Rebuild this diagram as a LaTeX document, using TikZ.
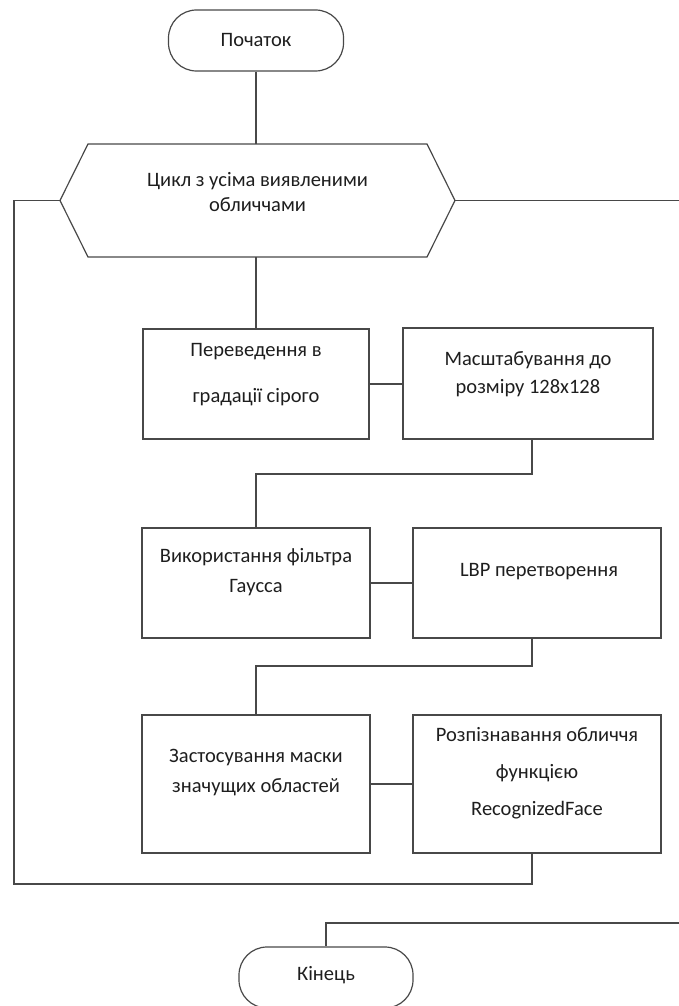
\documentclass[tikz,border=0pt]{standalone}
\usepackage{fontspec}
\setmainfont{Carlito}
\usetikzlibrary{calc}

\definecolor{inkgray}{RGB}{72,72,72}
\definecolor{textdark}{RGB}{30,30,30}

\tikzset{
	ink/.style={draw=inkgray, line width=1.2pt},
	term/.style={ink, rectangle, rounded corners=28pt, minimum width=175pt, minimum height=61pt, inner sep=0pt},
	proc/.style={ink, rectangle, inner sep=0pt},
	txt/.style={align=center, font=\fontsize{20.5}{25}\selectfont, text=textdark, inner sep=0pt},
}

\begin{document}
\begin{tikzpicture}[x=1pt,y=-1pt]

		\useasboundingbox (0,0) rectangle (679,1006);

		\node [term, label={[txt]center:Початок}] (start) at (256,40.5) {};

		\coordinate (L) at (60,200.5) ;
		\coordinate (TL) at (88,144) ;
		\coordinate (TR) at (427,144) ;
		\coordinate (R) at (455,200.5) ;
		\coordinate (BR) at (427,257) ;
		\coordinate (BL) at (88,257) ;

		\draw [ink] (L)--(TL)--(TR)--(R)--(BR)--(BL)--cycle;
		\node [txt] (cycle) at (257.5,192.5) {Цикл з усіма виявленими\\обличчами};

		\node [proc, minimum width=226pt, minimum height=110pt,
			label={[txt, yshift=9pt]center:{Переведення в\\[21pt]градації сірого}}] (grey) at (256,384) {};
		\node [proc, minimum width=250pt, minimum height=111pt,
			label={[txt, yshift=9.5pt]center:{Масштабування до\\[3pt]розміру 128x128}}] (resize) at (528,383.5) {};

		\node [proc, minimum width=228pt, minimum height=110pt,
			label={[txt, yshift=11pt]center:{Використання фільтра\\[5pt]Гаусса}}] (gauss) at (256,583) {};
		\node [proc, minimum width=248pt, minimum height=110pt,
			label={[txt, yshift=11pt, xshift=2pt]center:LBP перетворення}] (lbp) at (537,583) {};

		\node [proc, minimum width=228pt, minimum height=138pt,
			label={[txt, yshift=11pt]center:{Застосування маски\\[5pt]значущих областей}}] (mask) at (256,784) {};
		\node [proc, minimum width=248pt, minimum height=138pt,
			label={[txt, yshift=11pt]center:{Розпізнавання обличчя\\[12pt]функцією\\[12pt]RecognizedFace}}] (recog) at (537,784) {};

		\node [term, minimum width=174pt, label={[txt, yshift=2.5pt]center:Кінець}] (stop) at (326,977.5) {};

		\coordinate (J1) at (532,474);
		\coordinate (J2) at (532,666);
		\coordinate (J3) at (532,884);
		\coordinate (back) at (14,884);
		\coordinate (out) at (679,200.5);
		\coordinate (in) at (679,923);

		\draw [ink] (start.south)--(start.south |- TL);
		\draw [ink] (grey.north |- BL)--(grey.north);
		\draw [ink] (grey.east)--(grey.east -| resize.west);
		\draw [ink] (resize.south -| J1)--(J1)--(J1 -| gauss.north)--(gauss.north);
		\draw [ink] (gauss.east)--(gauss.east -| lbp.west);
		\draw [ink] (lbp.south -| J2)--(J2)--(J2 -| mask.north)--(mask.north);
		\draw [ink] (mask.east)--(mask.east -| recog.west);
		\draw [ink] (recog.south -| J3)--(J3)--(back)--(back |- L)--(L);
		\draw [ink] (R)--(out);
		\draw [ink] (in)--(in -| stop.north)--(stop.north);

\end{tikzpicture}
\end{document}
